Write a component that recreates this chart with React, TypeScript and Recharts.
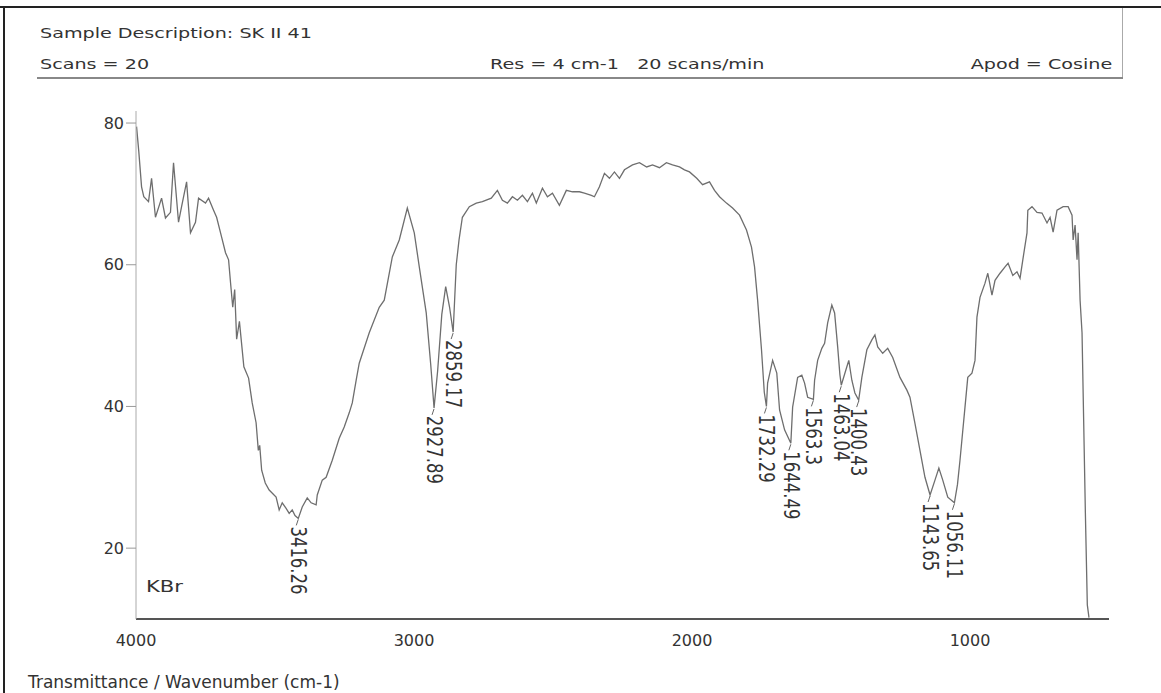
import { Line, LineChart, ReferenceDot, XAxis, YAxis } from 'recharts'

// IR spectrum, transmittance vs wavenumber (cm-1)
const wavenumbers = [
  3998, 3990, 3980, 3972, 3955, 3944, 3930, 3908, 3894, 3876, 3865, 3847, 3836, 3818, 3804,
  3786, 3775, 3750, 3739, 3721, 3710, 3692, 3678, 3667, 3660, 3652, 3645, 3638, 3628, 3612,
  3595, 3582, 3568, 3560, 3555, 3548, 3535, 3521, 3496, 3485, 3474, 3460, 3449, 3438, 3428,
  3416.26, 3402, 3384, 3370, 3352, 3348, 3330, 3316, 3294, 3269, 3251, 3233, 3222, 3208, 3197,
  3161, 3125, 3107, 3078, 3053, 3024, 2999, 2981, 2956, 2940, 2927.89, 2915, 2900, 2886, 2872,
  2859.17, 2848, 2838, 2826, 2801, 2776, 2754, 2722, 2700, 2682, 2664, 2646, 2628, 2610, 2592,
  2574, 2560, 2538, 2520, 2502, 2477, 2452, 2430, 2405, 2387, 2362, 2351, 2333, 2315, 2297,
  2279, 2261, 2243, 2214, 2189, 2163, 2142, 2117, 2092, 2070, 2045, 2027, 2009, 1983, 1962,
  1937, 1919, 1901, 1876, 1854, 1829, 1804, 1786, 1775, 1764, 1750, 1740, 1732.29, 1728, 1710,
  1695, 1685, 1667, 1644.49, 1638, 1620, 1605, 1595, 1584, 1563.3, 1559, 1548, 1533, 1523, 1512,
  1497, 1487, 1476, 1468, 1463.04, 1443, 1436, 1425, 1414, 1400.43, 1389, 1371, 1353, 1342, 1332,
  1314, 1296, 1278, 1252, 1227, 1216, 1198, 1180, 1162, 1143.65, 1126, 1112, 1098, 1080, 1056.11,
  1045, 1036, 1018, 1008, 993, 982, 975, 964, 946, 936, 921, 910, 892, 874, 863,
  846, 831, 820, 810, 795, 792, 777, 759, 741, 723, 712, 701, 687, 665, 647,
  633, 629, 622, 615, 611, 604, 597, 593, 585, 578, 572,
]

const transmittance = [
  79.5, 76, 71, 69.6, 68.9, 72.2, 66.7, 69.4, 66.6, 67.4, 74.4, 66, 68.2, 71.7, 64.5,
  66, 69.4, 68.7, 69.4, 67.7, 66.7, 63.9, 61.7, 60.7, 57.5, 54, 56.5, 49.5, 52, 45.6,
  44, 40.5, 37.7, 33.8, 34.5, 31, 29.2, 28.2, 27.2, 25.4, 26.4, 25.6, 24.9, 25.4, 24.6,
  24.2, 25.8, 27.1, 26.4, 26.1, 27.5, 29.6, 30, 32.4, 35.5, 37.1, 39.1, 40.5, 43.7, 46.1,
  50.4, 54, 55, 61.1, 63.5, 68, 64.5, 59.7, 53.2, 46, 39.8, 45, 53, 56.9, 54,
  50.5, 60, 63.5, 66.7, 68.2, 68.7, 68.9, 69.4, 70.5, 69.1, 68.7, 69.6, 69.1, 69.8, 68.9,
  70.1, 68.7, 70.8, 69.6, 70.1, 68.4, 70.5, 70.3, 70.3, 70.1, 69.8, 69.6, 71, 72.9, 72.2,
  73.1, 72.2, 73.4, 74.1, 74.4, 73.8, 74.1, 73.7, 74.4, 74.1, 73.8, 73.4, 73.1, 72.2, 71.3,
  71.7, 70.5, 69.6, 68.7, 68, 67, 64.9, 62.5, 59.7, 55, 48, 42, 40, 43.3, 46.5,
  44.7, 39.5, 36.7, 34.8, 39.9, 44.1, 44.4, 43.3, 41.3, 41, 43.7, 46.5, 48.2, 48.9, 51.8,
  54.3, 53.2, 48.4, 44.5, 43, 45.6, 46.5, 43.7, 41.9, 40.9, 44.1, 48, 49.4, 50.1, 48.4,
  47.5, 48.2, 46.9, 44.1, 42.3, 41.3, 37.6, 33.8, 30, 27.5, 29.6, 31.3, 29.6, 27.2, 26.4,
  29, 32.4, 39.9, 44.1, 44.7, 46.5, 52.6, 55.4, 57.4, 58.8, 55.7, 57.8, 58.8, 59.7, 60.2,
  58.5, 59, 58.1, 60.7, 64.5, 67.7, 68.2, 67.4, 67.3, 65.9, 66.7, 64.6, 67.7, 68.2, 68.2,
  67, 63.5, 65.6, 60.7, 64.5, 55, 50.4, 41.9, 25, 12, 10.2,
]

const peakWavenumbers = [3416.26, 2927.89, 2859.17, 1732.29, 1644.49, 1563.3, 1463.04, 1400.43, 1143.65, 1056.11]
const peakLabels = ['3416.26', '2927.89', '2859.17', '1732.29', '1644.49', '1563.3', '1463.04', '1400.43', '1143.65', '1056.11']

const xTicks = [4000, 3000, 2000, 1000]
const yTicks = [20, 40, 60, 80]

const spectrum = wavenumbers.map((wn, i) => ({ wn, t: transmittance[i] }))

const font = '"DejaVu Sans", sans-serif'
const ink = '#333'

// the scan is stretched sideways, so text is widened to match
const STRETCH = 1.32

function PeakTag(props: any) {
  const { cx, cy, text } = props
  if (cx == null || cy == null) return null
  return (
    <g>
      <line x1={cx} y1={cy + 1} x2={cx - 2} y2={cy + 7} stroke="#666" strokeWidth={1} />
      <text
        transform={`translate(${cx},${cy + 8}) rotate(90) scale(1,${STRETCH})`}
        dominantBaseline="central"
        fontFamily={font}
        fontSize={16.5}
        fill={ink}
      >
        {text}
      </text>
    </g>
  )
}

const textStyle = (left: number, top: number, size: number, sx = STRETCH): React.CSSProperties => ({
  position: 'absolute',
  left,
  top,
  fontFamily: font,
  fontSize: size,
  color: ink,
  whiteSpace: 'pre',
  lineHeight: 1,
  transform: `scaleX(${sx})`,
  transformOrigin: 'left top',
})

export default function App() {
  return (
    <div style={{ position: 'absolute', left: 0, top: 0, width: 1161, height: 693, background: '#fff', overflow: 'hidden' }}>
      {/* page frame and header box */}
      <div style={{ position: 'absolute', left: 0, top: 6, width: 1161, height: 2, background: '#222' }} />
      <div style={{ position: 'absolute', left: 3, top: 6, width: 2, height: 687, background: '#222' }} />
      <div style={{ position: 'absolute', left: 1122, top: 8, width: 1, height: 70, background: '#aaa' }} />
      <div style={{ position: 'absolute', left: 37, top: 77, width: 1086, height: 2, background: '#888' }} />

      <div style={textStyle(40, 26, 14.5)}>Sample Description: SK II 41</div>
      <div style={textStyle(40, 57, 14.5)}>Scans = 20</div>
      <div style={textStyle(490, 57, 14.5)}>Res = 4 cm-1   20 scans/min</div>
      <div style={{ ...textStyle(0, 57, 14.5), left: 'auto', right: 49, transformOrigin: 'right top' }}>Apod = Cosine</div>

      <LineChart
        width={1161}
        height={693}
        data={spectrum}
        margin={{ top: 111, right: 52, bottom: 0, left: 0 }}
        style={{ position: 'absolute', left: 0, top: 0 }}
      >
        <XAxis
          xAxisId="bottom"
          dataKey="wn"
          type="number"
          domain={[500, 4000]}
          reversed
          allowDataOverflow
          ticks={xTicks}
          height={74}
          tickLine={false}
          tickSize={0}
          tickMargin={16}
          axisLine={{ stroke: '#555', strokeWidth: 2 }}
          tick={{ fill: ink, fontSize: 16, fontFamily: font }}
        />
        <XAxis
          xAxisId="top"
          orientation="top"
          dataKey="wn"
          type="number"
          domain={[500, 4000]}
          reversed
          allowDataOverflow
          height={0}
          tick={false}
          tickLine={false}
          axisLine={{ stroke: '#555', strokeWidth: 2 }}
        />
        <YAxis
          yAxisId="left"
          type="number"
          domain={[10, 81.7]}
          allowDataOverflow
          ticks={yTicks}
          width={136}
          tickSize={10}
          tickMargin={2}
          tickLine={{ stroke: '#999' }}
          axisLine={{ stroke: '#aaa' }}
          tick={{ fill: ink, fontSize: 16, fontFamily: font }}
        />
        <YAxis
          yAxisId="right"
          orientation="right"
          type="number"
          domain={[10, 81.7]}
          allowDataOverflow
          width={0}
          tick={false}
          tickLine={false}
          axisLine={{ stroke: '#aaa' }}
        />
        <Line
          xAxisId="bottom"
          yAxisId="left"
          type="linear"
          dataKey="t"
          stroke="#6e6e6e"
          strokeWidth={1.3}
          dot={false}
          isAnimationActive={false}
        />
        {peakWavenumbers.map((wn, i) => (
          <ReferenceDot
            key={peakLabels[i]}
            xAxisId="bottom"
            yAxisId="left"
            x={wn}
            y={transmittance[wavenumbers.indexOf(wn)]}
            r={0}
            shape={(p: any) => <PeakTag cx={p.cx} cy={p.cy} text={peakLabels[i]} />}
          />
        ))}
      </LineChart>

      <div style={textStyle(146, 579, 16.5, 1.28)}>KBr</div>
      <div style={textStyle(28, 674, 17, 1)}>Transmittance / Wavenumber (cm-1)</div>
    </div>
  )
}
